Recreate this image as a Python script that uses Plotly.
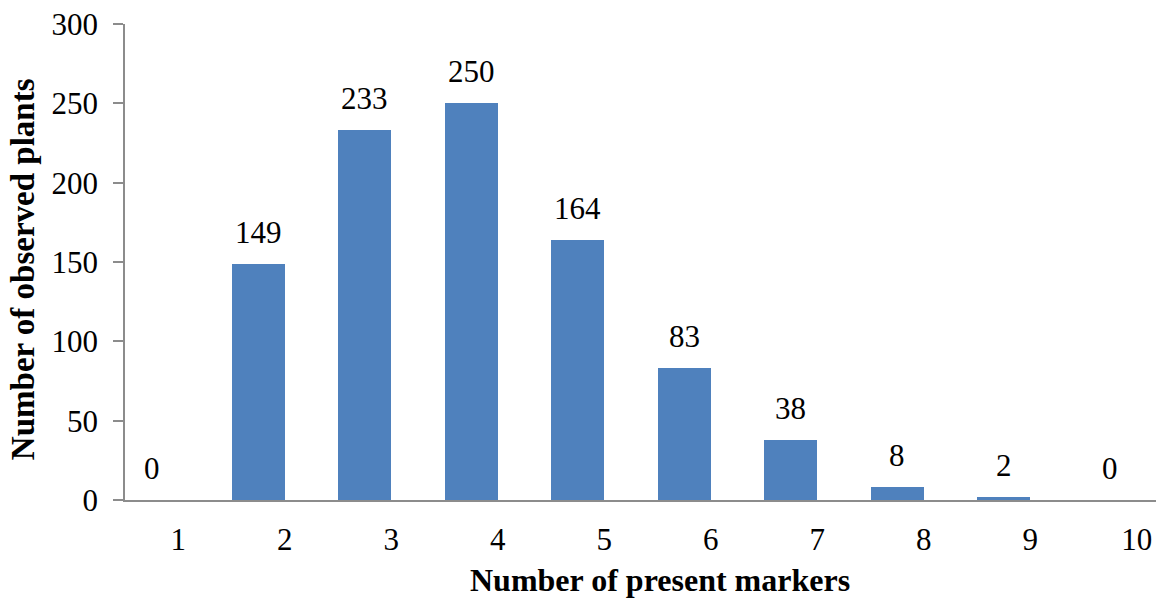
import plotly.graph_objects as go

# Number of present markers per plant and how many plants showed each count
markers = [1, 2, 3, 4, 5, 6, 7, 8, 9, 10]
plants = [0, 149, 233, 250, 164, 83, 38, 8, 2, 0]
y_ticks = [0, 50, 100, 150, 200, 250, 300]

BAR_BLUE = "#4F81BD"
AXIS_GRAY = "#8C8C8C"
FONT = "Liberation Serif, Times New Roman, serif"

fig = go.Figure()

# Each bar sits in the left half of its category slot
fig.add_trace(go.Bar(
    x=markers,
    y=plants,
    width=0.5,
    offset=-0.5,
    marker=dict(color=BAR_BLUE, line=dict(width=0)),
    hoverinfo="x+y",
    showlegend=False,
))

# Value labels above each bar
for m, v in zip(markers, plants):
    fig.add_annotation(
        x=m - 0.25, y=v, xref="x", yref="y",
        text=str(v), showarrow=False,
        xanchor="center", yanchor="bottom", yshift=12,
        font=dict(family=FONT, size=31, color="black"),
    )

# Axis titles
fig.add_annotation(
    x=(660 - 125) / 1031, y=-0.168, xref="paper", yref="paper",
    text="<b>Number of present markers</b>", showarrow=False,
    xanchor="center", yanchor="middle",
    font=dict(family=FONT, size=32, color="black"),
)
fig.add_annotation(
    x=(23 - 125) / 1031, y=0.485, xref="paper", yref="paper",
    text="<b>Number of observed plants</b>", showarrow=False, textangle=-90,
    xanchor="center", yanchor="middle",
    font=dict(family=FONT, size=33, color="black"),
)

fig.update_layout(
    width=1162,
    height=599,
    margin=dict(l=125, r=6, t=24, b=99),
    paper_bgcolor="white",
    plot_bgcolor="white",
    font=dict(family=FONT, size=31, color="black"),
    bargap=0,
)

fig.update_xaxes(
    range=[0.5, 10.18],
    tickmode="array",
    tickvals=markers,
    ticktext=[str(m) for m in markers],
    showline=True, linecolor=AXIS_GRAY, linewidth=1.5,
    ticks="", showgrid=False, zeroline=False,
    ticklabelstandoff=11,
    tickfont=dict(family=FONT, size=31, color="black"),
)

fig.update_yaxes(
    range=[0, 300],
    tickmode="array",
    tickvals=y_ticks,
    ticktext=[str(t) for t in y_ticks],
    showline=True, linecolor=AXIS_GRAY, linewidth=1.5,
    ticks="outside", ticklen=10, tickcolor=AXIS_GRAY, tickwidth=1.5,
    showgrid=False, zeroline=False,
    ticklabelstandoff=9,
    tickfont=dict(family=FONT, size=31, color="black"),
)

fig.write_html("out.html")
